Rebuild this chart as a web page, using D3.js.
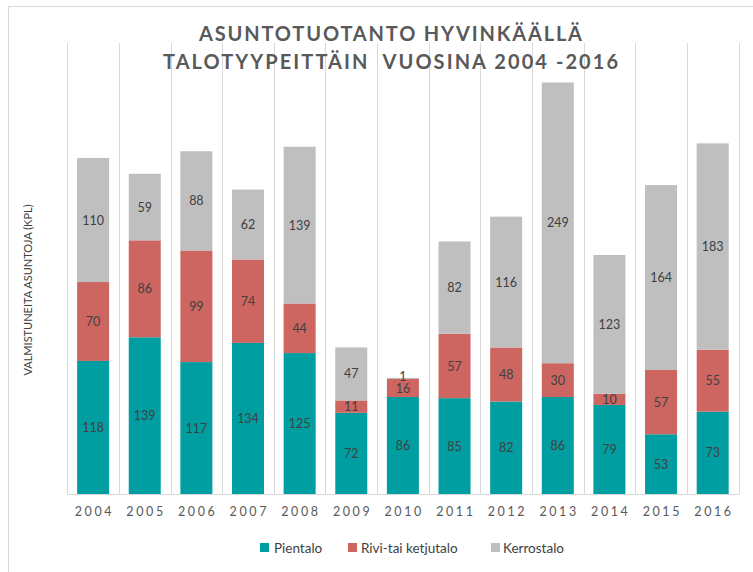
<!DOCTYPE html>
<html><head><meta charset="utf-8">
<script src="https://cdn.jsdelivr.net/npm/d3@7"></script>
<style>
html,body{margin:0;padding:0;background:#fff;}
svg{display:block;font-family:Lato,"Open Sans",sans-serif;}
</style></head>
<body><svg id="c" width="753" height="572"></svg>
<script>
const years = ["2004","2005","2006","2007","2008","2009","2010","2011","2012","2013","2014","2015","2016"];
const pientalo = [118,139,117,134,125,72,86,85,82,86,79,53,73];
const rivitalo = [70,86,99,74,44,11,16,57,48,30,10,57,55];
const kerrostalo = [110,59,88,62,139,47,1,82,116,249,123,164,183];
const seriesNames = ["Pientalo","Rivi-tai ketjutalo","Kerrostalo"];
const seriesColors = ["#009EA0","#CD6661","#BFBFBF"];
const titleLines = ["ASUNTOTUOTANTO HYVINKÄÄLLÄ","TALOTYYPEITTÄIN  VUOSINA 2004 -2016"];
const yAxisTitle = "VALMISTUNEITA ASUNTOJA (KPL)";
const yMax = 400;

const svg = d3.select("#c");
const plot = {left:67.3, right:738.5, top:43, bottom:494};

// outer chart border
svg.append("path").attr("d","M8.5,580 V6.5 H760")
  .attr("fill","none").attr("stroke","#D9D9D9").attr("stroke-width",1);

const x = d3.scaleBand().domain(years).range([plot.left, plot.right])
  .paddingInner(0.38).paddingOuter(0.19);
const y = d3.scaleLinear().domain([0, yMax]).range([plot.bottom, plot.top]);

// vertical category gridlines
const step = x.step();
const gx = d3.range(years.length + 1).map(i => plot.left + i * step);
svg.append("g").selectAll("line").data(gx).join("line")
  .attr("x1", d => Math.round(d) + 0.5).attr("x2", d => Math.round(d) + 0.5)
  .attr("y1", plot.top).attr("y2", plot.bottom)
  .attr("stroke","#D9D9D9").attr("stroke-width",1);

// stacked data
const rows = years.map((yr,i) => ({year:yr, s0:pientalo[i], s1:rivitalo[i], s2:kerrostalo[i]}));
const stack = d3.stack().keys(["s0","s1","s2"])(rows);

const g = svg.append("g");
stack.forEach((layer, li) => {
  g.append("g").selectAll("rect").data(layer).join("rect")
    .attr("x", d => x(d.data.year))
    .attr("width", x.bandwidth())
    .attr("y", d => y(d[1]))
    .attr("height", d => y(d[0]) - y(d[1]))
    .attr("fill", seriesColors[li]);
});

// data labels
stack.forEach((layer, li) => {
  g.append("g").selectAll("text").data(layer).join("text")
    .attr("x", d => x(d.data.year) + x.bandwidth()/2)
    .attr("y", d => (y(d[0]) + y(d[1]))/2 + ((d[1]-d[0]) < 5 ? -2 : 0))
    .attr("dy","0.36em")
    .attr("text-anchor","middle")
    .attr("font-size",12.5)
    .attr("fill","#404040")
    .text(d => d[1]-d[0]);
});

// bottom axis
const xAxis = d3.axisBottom(x).tickSize(0).tickPadding(0);
const ax = svg.append("g").attr("transform",`translate(0,${plot.bottom})`).call(xAxis);
ax.select(".domain").remove();
ax.selectAll("text").attr("font-family","Lato,'Open Sans',sans-serif")
  .attr("font-size",12.5).attr("fill","#595959")
  .attr("letter-spacing","2.6px").attr("dy",null).attr("y",22)
  .attr("dx","1.3px");
svg.append("line").attr("x1",plot.left).attr("x2",plot.right+0.5)
  .attr("y1",plot.bottom+0.5).attr("y2",plot.bottom+0.5)
  .attr("stroke","#D9D9D9");

// title
const tl = [{t:titleLines[0], y:41, w:383},{t:titleLines[1], y:69, w:455}];
svg.append("g").selectAll("text").data(tl).join("text")
  .attr("x",390.5).attr("y",d=>d.y).attr("text-anchor","middle")
  .attr("font-size",20).attr("font-weight","bold").attr("fill","#595959")
  .attr("textLength",d=>d.w).attr("lengthAdjust","spacing")
  .style("white-space","pre")
  .text(d=>d.t);

// y axis title
svg.append("text").attr("transform","translate(32,290) rotate(-90)")
  .attr("text-anchor","middle").attr("font-size",11).attr("fill","#404040")
  .text(yAxisTitle);

// legend
const legX = [{sx:260, tx:274},{sx:348, tx:361},{sx:491, tx:503}];
const leg = svg.append("g").selectAll("g").data(seriesNames).join("g");
leg.append("rect").attr("x",(d,i)=>legX[i].sx).attr("y",543).attr("width",9).attr("height",9)
  .attr("fill",(d,i)=>seriesColors[i]);
leg.append("text").attr("x",(d,i)=>legX[i].tx).attr("y",553)
  .attr("font-size",13.5).attr("fill","#404040").text(d=>d);
</script></body></html>
